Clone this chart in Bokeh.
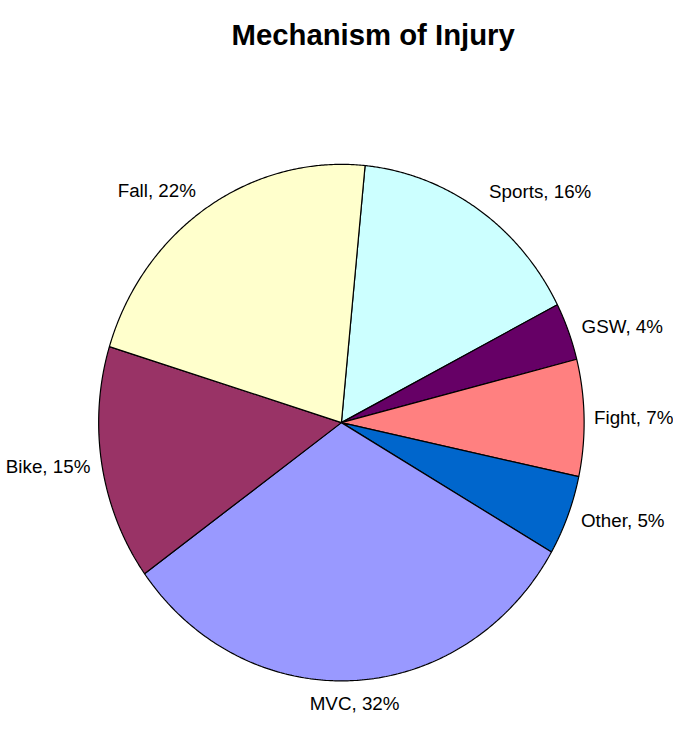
import numpy as np
from bokeh.plotting import figure
from bokeh.models import Range1d, ColumnDataSource
from bokeh.core.properties import value
from bokeh.embed import file_html
from bokeh.resources import INLINE

# ---- data ----
categories = ["Sports", "GSW", "Fight", "Other", "MVC", "Bike", "Fall"]
shares = [15.9, 3.6, 7.3, 5.0, 31.7, 14.7, 21.8]
colors = ["#CCFFFF", "#660066", "#FF8080", "#0066CC", "#9999FF", "#993366", "#FFFFCC"]
title_text = "Mechanism of Injury"
start_deg = 5.6  # first slice boundary, clockwise from 12 o'clock

# ---- layout (reference-image coordinates, scaled into the figure) ----
W, H = 673, 720
REF_W, REF_H = 689, 736
cx, cy = 349.0, 431.5
rx, ry = 248.5, 264.0
sc = W / REF_W

p = figure(width=W, height=H, output_backend="svg", toolbar_location=None,
           x_range=Range1d(0, REF_W), y_range=Range1d(REF_H, 0),
           min_border=0, outline_line_color=None)
p.xaxis.visible = False
p.yaxis.visible = False
p.grid.visible = False
p.background_fill_color = "white"
p.border_fill_color = "white"

total = sum(shares)
bounds = start_deg + np.concatenate([[0], np.cumsum(shares)]) / total * 360.0

xs, ys = [], []
for i in range(len(shares)):
    a = np.radians(np.linspace(bounds[i], bounds[i + 1], 200))
    xs.append(np.concatenate([[cx], cx + rx * np.sin(a), [cx]]))
    ys.append(np.concatenate([[cy], cy - ry * np.cos(a), [cy]]))

src = ColumnDataSource(dict(xs=xs, ys=ys, color=colors, name=categories))
p.patches("xs", "ys", source=src, fill_color="color", line_color="black", line_width=1.2)

# labels
lab_size = f"{19.2 * sc:.1f}px"
for i, cat in enumerate(categories):
    mid = np.radians((bounds[i] + bounds[i + 1]) / 2)
    s, c = np.sin(mid), np.cos(mid)
    k = 1.04 + 0.05 * abs(c)
    lx = cx + rx * k * s
    ly = cy - ry * k * c
    align = "left" if s > 0.1 else ("right" if s < -0.1 else "center")
    pct = int(round(shares[i] / total * 100))
    p.text(x=[lx], y=[ly], text=[f"{cat}, {pct}%"], text_align=align,
           text_baseline="middle", text_font=value("Liberation Sans"),
           text_font_size=lab_size, text_color="black")

p.text(x=[381.5], y=[35], text=[title_text], text_align="center",
       text_baseline="alphabetic", text_font=value("Liberation Sans"),
       text_font_style="bold", text_font_size=f"{30 * sc:.1f}px", text_color="black")

open("out.html", "w").write(file_html(p, INLINE))
